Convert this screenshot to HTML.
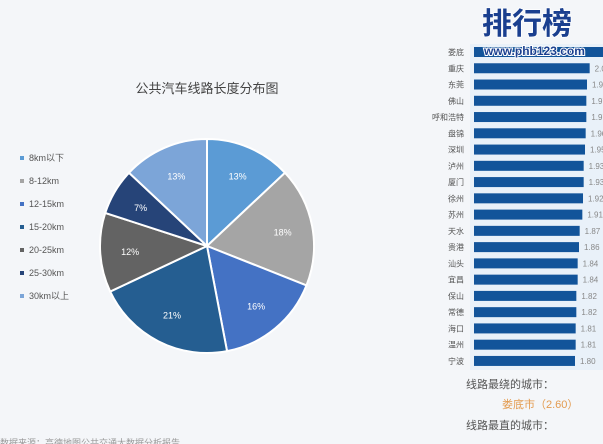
<!DOCTYPE html>
<html><head><meta charset="utf-8"><style>
body{margin:0;width:603px;height:444px;overflow:hidden;background:#f4f6f9;font-family:"Liberation Sans","Noto Sans CJK SC",sans-serif;}
svg{position:absolute;left:0;top:0}
</style></head><body>
<svg width="603" height="444" id="s"></svg>
<script>
const pieLabels=["8km以下","8-12km","12-15km","15-20km","20-25km","25-30km","30km以上"];
const pieOrder=[0,1,2,3,4,5,6];
const pieValues=[13,18,16,21,12,7,13];
const pieColors=["#5b9bd5","#a5a5a5","#4472c4","#255e91","#636363","#264478","#7ca5d8"];
const cities=["娄底","重庆","东莞","佛山","呼和浩特","盘锦","深圳","泸州","厦门","徐州","苏州","天水","贵港","汕头","宜昌","保山","常德","海口","温州","宁波"];
const cityValues=[2.60,2.02,1.98,1.97,1.97,1.96,1.95,1.93,1.93,1.92,1.91,1.87,1.86,1.84,1.84,1.82,1.82,1.81,1.81,1.80];
const NS="http://www.w3.org/2000/svg";const s=document.getElementById('s');
function el(t,a,txt){const e=document.createElementNS(NS,t);for(const k in a)e.setAttribute(k,a[k]);if(txt!=null)e.textContent=txt;s.appendChild(e);return e;}
let e=el('text',{x:207,y:93,'font-size':13,fill:'#444','text-anchor':'middle'},'公共汽车线路长度分布图');

const cx=207,cy=246,r=107;const tot=pieValues.reduce((a,b)=>a+b,0);let ang=0;
pieValues.forEach((v,i)=>{const a0=ang,a1=ang+v/tot*2*Math.PI;ang=a1;
const p=(a)=>[cx+r*Math.sin(a),cy-r*Math.cos(a)];const[x0,y0]=p(a0),[x1,y1]=p(a1);
const sl=el('path',{d:`M${cx},${cy}L${x0},${y0}A${r},${r} 0 ${a1-a0>Math.PI?1:0} 1 ${x1},${y1}Z`,fill:pieColors[i],stroke:'#fff','stroke-width':2});

const am=(a0+a1)/2;const t=el('text',{x:cx+r*0.72*Math.sin(am),y:cy-r*0.72*Math.cos(am)+4,'font-size':9,fill:'#fff','text-anchor':'middle'},v+'%');

const ly=161+i*23;
const m=el('rect',{x:20,y:ly-5,width:4,height:4,fill:pieColors[i]});
const lt=el('text',{x:29,y:ly,'font-size':9,fill:'#555'},pieLabels[i]);
});
e=el('rect',{x:470,y:44,width:133,height:326,fill:'#e9f1f9'});
const xs=v=>575+(v-1.8)*66.7;
cities.forEach((c,i)=>{const y=52+i*16.26;
const l=el('text',{x:464,y:y+3,'font-size':8,fill:'#555','text-anchor':'end'},c);
const b=el('rect',{x:474,y:y-5,width:xs(cityValues[i])-474,height:10,fill:'#12549a'});
const vt=el('text',{x:xs(cityValues[i])+5,y:y+3,'font-size':8,fill:'#888'},cityValues[i].toFixed(2));
});
e=el('text',{x:466,y:388,'font-size':11,fill:'#555'},'线路最绕的城市：');
e=el('text',{x:502,y:408,'font-size':11,fill:'#e39b50'},'娄底市（2.60）');
e=el('text',{x:466,y:429,'font-size':11,fill:'#555'},'线路最直的城市：');
e=el('text',{x:482,y:34,'font-size':30,'font-weight':'bold',fill:'#1a3f8f',stroke:'#fff','stroke-width':1.5,'paint-order':'stroke'},'排行榜');
e=el('text',{x:484,y:55,'font-size':12,'font-weight':'bold',fill:'#1a3f8f',stroke:'#fff','stroke-width':2,'paint-order':'stroke'},'www.phb123.com');
e=el('text',{x:0,y:446,'font-size':9,fill:'#999'},'数据来源：高德地图公共交通大数据分析报告');
</script>
</body></html>
